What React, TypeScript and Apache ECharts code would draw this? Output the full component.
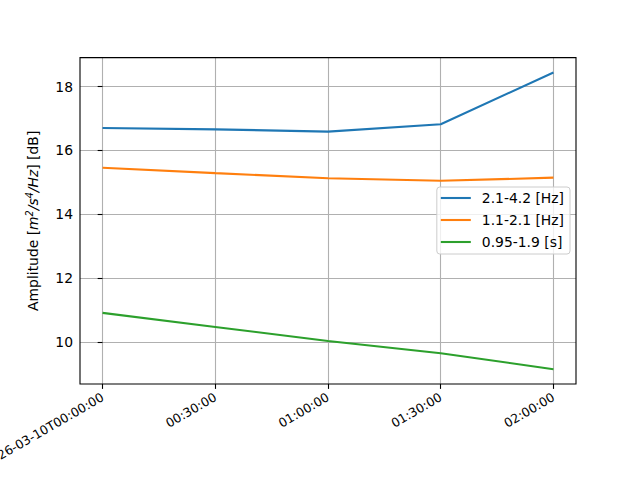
import React, { useEffect, useRef } from "react";
import * as echarts from "echarts";

// ---- data ----
const xMinutes = [0, 30, 60, 90, 120];
const seriesNames = ["2.1-4.2 [Hz]", "1.1-2.1 [Hz]", "0.95-1.9 [s]"];
const blueValues = [16.7, 16.66, 16.59, 16.82, 18.44];
const orangeValues = [15.46, 15.29, 15.13, 15.05, 15.15];
const greenValues = [10.92, 10.48, 10.04, 9.66, 9.16];
const seriesColors = ["#1f77b4", "#ff7f0e", "#2ca02c"];
const xTickValues = [0, 30, 60, 90, 120];
const xTickLabels = ["2026-03-10T00:00:00", "00:30:00", "01:00:00", "01:30:00", "02:00:00"];
const yTickMin = 10;
const yTickMax = 18;
const yTickStep = 2;

// ---- layout (matplotlib-like axes box) ----
const W = 640;
const H = 480;
const AX_L = 80;
const AX_R = 576;
const AX_T = 57.6;
const AX_B = 384;
const FONT = "DejaVu Sans";

export default function App() {
  const ref = useRef<HTMLDivElement>(null);

  useEffect(() => {
    if (!ref.current) return;
    const chart = echarts.init(ref.current, null, { renderer: "svg" });

    const allSeries = [blueValues, orangeValues, greenValues];
    const allY = allSeries.flat();
    const dMin = Math.min(...allY);
    const dMax = Math.max(...allY);
    const yLo = dMin - 0.05 * (dMax - dMin);
    const yHi = dMax + 0.05 * (dMax - dMin);
    const xDMin = Math.min(...xMinutes);
    const xDMax = Math.max(...xMinutes);
    const xLo = xDMin - 0.05 * (xDMax - xDMin);
    const xHi = xDMax + 0.05 * (xDMax - xDMin);

    const axW = AX_R - AX_L;
    const axH = AX_B - AX_T;
    const xPx = (v: number) => AX_L + ((v - xLo) / (xHi - xLo)) * axW;
    const yPx = (v: number) => AX_B - ((v - yLo) / (yHi - yLo)) * axH;

    const gridB = {
      left: xPx(xDMin),
      right: W - xPx(xDMax),
      top: AX_T,
      bottom: H - AX_B,
    };
    const gridC = {
      left: AX_L,
      right: W - AX_R,
      top: yPx(yTickMax),
      bottom: H - yPx(yTickMin),
    };

    const tickLine = { show: true, inside: false, length: 4.9, lineStyle: { color: "#000", width: 1.1 } };
    const gridLine = { show: true, lineStyle: { color: "#b0b0b0", width: 1.1 } };

    const option: any = {
      animation: false,
      backgroundColor: "#fff",
      grid: [
        // frame
        { left: AX_L, right: W - AX_R, top: AX_T, bottom: H - AX_B, show: true, borderColor: "#000", borderWidth: 1.1, backgroundColor: "transparent", z: 5, outerBoundsMode: "none", containLabel: false },
        // data grid (x ticks)
        { ...gridB, show: false, outerBoundsMode: "none", containLabel: false },
        // y ticks grid
        { ...gridC, show: false, outerBoundsMode: "none", containLabel: false },
      ],
      xAxis: [
        { gridIndex: 0, type: "value", min: xLo, max: xHi, show: false },
        {
          gridIndex: 1,
          type: "value",
          min: xTickValues[0],
          max: xTickValues[xTickValues.length - 1],
          interval: xTickValues[1] - xTickValues[0],
          axisLine: { show: false },
          axisTick: tickLine,
          splitLine: gridLine,
          axisLabel: {
            show: true,
            rotate: 30,
            margin: 12,
            fontSize: 12.5,
            fontFamily: FONT,
            color: "#000",
            showMinLabel: true,
            showMaxLabel: true,
            hideOverlap: false,
            formatter: (v: number) => {
              const i = xTickValues.indexOf(v);
              return i >= 0 ? xTickLabels[i] : "";
            },
          },
        },
        { gridIndex: 2, type: "value", min: xLo, max: xHi, show: false },
      ],
      yAxis: [
        {
          gridIndex: 0,
          type: "value",
          min: yLo,
          max: yHi,
          axisLine: { show: false },
          axisTick: { show: false },
          axisLabel: { show: false },
          splitLine: { show: false },
          name: "Amplitude [{i|m}{sup|2}{i|/s}{sup|4}{i|/Hz}] [dB]",
          nameLocation: "middle",
          nameRotate: 90,
          nameGap: 38,
          nameTextStyle: {
            fontSize: 13.9,
            fontFamily: FONT,
            color: "#000",
            rich: {
              i: { fontSize: 13.9, fontFamily: FONT, fontStyle: "italic", color: "#000" },
              sup: { fontSize: 9.7, fontFamily: FONT, fontStyle: "italic", color: "#000", padding: [0, 0, 8, 0] },
            },
          },
        },
        { gridIndex: 1, type: "value", min: yLo, max: yHi, show: false },
        {
          gridIndex: 2,
          type: "value",
          min: yTickMin,
          max: yTickMax,
          interval: yTickStep,
          axisLine: { show: false },
          axisTick: tickLine,
          splitLine: gridLine,
          axisLabel: { show: true, margin: 7, fontSize: 13.9, fontFamily: FONT, color: "#000" },
        },
      ],
      legend: {
        orient: "vertical",
        right: W - 570,
        top: 187,
        icon: "rect",
        itemWidth: 30,
        itemHeight: 2.1,
        itemGap: 8,
        padding: [4, 6, 5, 4],
        backgroundColor: "rgba(255,255,255,0.8)",
        borderColor: "#cccccc",
        borderWidth: 1,
        borderRadius: 3,
        textStyle: { fontSize: 13.9, lineHeight: 14, fontFamily: FONT, color: "#000", padding: [0, 0, 0, 6] },
        data: seriesNames,
        z: 10,
      },
      series: allSeries.map((vals, k) => ({
        name: seriesNames[k],
        type: "line",
        xAxisIndex: 1,
        yAxisIndex: 1,
        data: xMinutes.map((x, i) => [x, vals[i]]),
        symbol: "none",
        clip: false,
        color: seriesColors[k],
        lineStyle: { color: seriesColors[k], width: 2.08 },
        z: 3,
      })),
    };

    chart.setOption(option);
    return () => chart.dispose();
  }, []);

  return (
    <div
      ref={ref}
      style={{ position: "fixed", left: 0, top: 0, width: W, height: H, background: "#fff" }}
    />
  );
}
